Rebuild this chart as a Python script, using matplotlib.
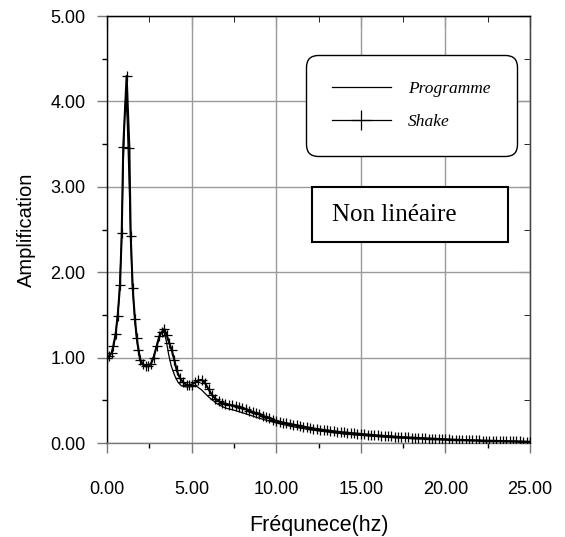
import numpy as np
import matplotlib
matplotlib.use('Agg')
import matplotlib.pyplot as plt
from matplotlib.patches import Rectangle

# --- values --------------------------------------------------------------
# "Programme" (thin line)
prog_hz = [0.0, 0.3, 0.5, 0.7, 0.85, 0.95, 1.05, 1.12, 1.2, 1.3, 1.4, 1.5, 1.65,
           1.8, 2.0, 2.2, 2.4, 2.6, 2.8, 3.0, 3.2, 3.35, 3.5, 3.65, 3.8, 4.0,
           4.2, 4.4, 4.7, 5.0, 5.3, 5.6, 6.0, 6.5, 7.0, 7.5, 8.0, 9.0, 10.0,
           11.0, 12.0, 13.0, 14.0, 15.0, 16.0, 17.0, 18.0, 19.0, 20.0, 22.0, 25.0]
prog_amp = [1.0, 1.06, 1.25, 1.65, 2.3, 3.2, 3.9, 4.07, 3.75, 3.1, 2.4, 1.85, 1.42,
            1.15, 0.97, 0.91, 0.895, 0.93, 1.04, 1.18, 1.29, 1.32, 1.2, 1.03, 0.9, 0.79,
            0.71, 0.67, 0.655, 0.66, 0.665, 0.62, 0.54, 0.46, 0.41, 0.385, 0.355, 0.29, 0.235,
            0.19, 0.155, 0.13, 0.105, 0.09, 0.075, 0.062, 0.052, 0.044, 0.037, 0.026, 0.012]

# "Shake" (line with + markers), low frequency part
shake_hz_low = [0.0, 0.14, 0.28, 0.38, 0.51, 0.63, 0.77, 0.87, 0.96, 1.16, 1.32, 1.40,
                1.52, 1.65, 1.76, 1.86, 1.96, 2.11, 2.28, 2.45, 2.60, 2.75, 2.94, 3.09,
                3.23, 3.39, 3.53, 3.68, 3.82, 3.98, 4.12, 4.31, 4.51, 4.71, 4.86]
shake_amp_low = [1.00, 1.02, 1.06, 1.14, 1.28, 1.49, 1.85, 2.46, 3.47, 4.30, 3.45, 2.43,
                 1.81, 1.45, 1.23, 1.09, 0.97, 0.92, 0.90, 0.90, 0.93, 1.00, 1.14, 1.25,
                 1.30, 1.335, 1.26, 1.17, 1.09, 0.97, 0.85, 0.76, 0.71, 0.68, 0.68]

# "Shake", 5 to 25 Hz sampled every 0.2 Hz
shake_hz_high = np.round(np.arange(5.0, 25.01, 0.2), 2)
shake_amp_high = [0.685, 0.71, 0.735, 0.74, 0.70, 0.63, 0.565, 0.52, 0.49, 0.47,
                  0.46, 0.45, 0.44, 0.435, 0.425, 0.41, 0.395, 0.38, 0.365, 0.35,
                  0.335, 0.32, 0.305, 0.29, 0.275, 0.26, 0.25, 0.24, 0.232, 0.224,
                  0.216, 0.208, 0.2, 0.192, 0.184, 0.176, 0.17, 0.164, 0.158, 0.152,
                  0.147, 0.142, 0.137, 0.132, 0.128, 0.124, 0.12, 0.116, 0.113, 0.11,
                  0.107, 0.103, 0.099, 0.095, 0.092, 0.089, 0.086, 0.083, 0.08, 0.077,
                  0.074, 0.071, 0.069, 0.067, 0.065, 0.062, 0.06, 0.058, 0.056, 0.054,
                  0.052, 0.05, 0.048, 0.046, 0.045, 0.043, 0.042, 0.04, 0.039, 0.037,
                  0.036, 0.034, 0.033, 0.032, 0.031, 0.03, 0.029, 0.028, 0.027, 0.026,
                  0.025, 0.024, 0.023, 0.022, 0.021, 0.02, 0.019, 0.018, 0.017, 0.016,
                  0.015]

shake_hz = list(shake_hz_low) + list(shake_hz_high)
shake_amp = shake_amp_low + shake_amp_high

xticks = [0, 5, 10, 15, 20, 25]
yticks = [0, 1, 2, 3, 4, 5]

plt.rcParams['font.family'] = ['Liberation Sans', 'DejaVu Sans']

fig = plt.figure(figsize=(5.65, 5.37), dpi=100)
ax = fig.add_axes([0.1894, 0.175, 0.7487, 0.795])

grid_c = '#9a9a9a'
ax.plot(prog_hz, prog_amp, color='black', lw=0.9, label='Programme', zorder=3)
ax.plot(shake_hz, shake_amp, color='black', lw=1.5, marker='+', ms=7.5, mew=0.9,
        label='Shake', zorder=3)

ax.set_xlim(0, 25)
ax.set_ylim(0, 5)
ax.set_xticks(xticks)
ax.set_yticks(yticks)
ax.set_xticklabels(['%.2f' % v for v in xticks])
ax.set_yticklabels(['%.2f' % v for v in yticks])
ax.set_xticks(np.arange(2.5, 25, 5), minor=True)
ax.set_yticks(np.arange(0.5, 5, 1.0), minor=True)
ax.grid(True, which='major', color=grid_c, lw=1.0)
ax.set_axisbelow(True)

ax.tick_params(which='major', direction='out', length=7.5, width=1, color='#777777',
               labelsize=13, pad=20)
ax.tick_params(axis='y', which='major', pad=8)
ax.tick_params(which='minor', direction='out', length=3.5, width=1, color='black')

ax.spines['left'].set_color('black')
ax.spines['top'].set_color('black')
ax.spines['bottom'].set_color('#777777')
ax.spines['right'].set_color('#444444')
for s in ax.spines.values():
    s.set_linewidth(1.0)

# inward ticks on top and right
top = ax.secondary_xaxis('top')
top.set_xticks(xticks)
top.set_xticks(np.arange(2.5, 25, 5), minor=True)
top.tick_params(which='both', direction='in', labeltop=False, color='black')
top.tick_params(which='major', length=8)
top.tick_params(which='minor', length=4)
right = ax.secondary_yaxis('right')
right.set_yticks(yticks)
right.set_yticks(np.arange(0.5, 5, 1.0), minor=True)
right.tick_params(which='both', direction='in', labelright=False, color='black')
right.tick_params(which='major', length=8)
right.tick_params(which='minor', length=4)

ax.set_xlabel('Fréqunece(hz)', fontsize=15.5, labelpad=12)
ax.set_ylabel('Amplification', fontsize=14.5, labelpad=10)

leg = ax.legend(loc='upper left', bbox_to_anchor=(0.47, 0.909), borderaxespad=0,
                prop={'family': 'Liberation Serif', 'style': 'italic', 'size': 12.5},
                handlelength=3.4, handletextpad=1.0, labelspacing=0.95,
                borderpad=1.5, markerscale=2.0, fancybox=True, framealpha=1,
                edgecolor='black')
leg.get_frame().set_boxstyle('round', pad=0, rounding_size=0.7)
leg.get_frame().set_linewidth(1.0)
for h in leg.get_lines():
    h.set_linewidth(0.9)
leg.set_zorder(6)

ax.add_patch(Rectangle((0.484, 0.471), 0.464, 0.128, transform=ax.transAxes,
                       facecolor='white', edgecolor='black', lw=1.5, zorder=5))
ax.text(0.531, 0.535, 'Non linéaire', transform=ax.transAxes, ha='left', va='center',
        fontsize=18, family='Liberation Serif', zorder=6)

fig.savefig('out.png', dpi=100)
